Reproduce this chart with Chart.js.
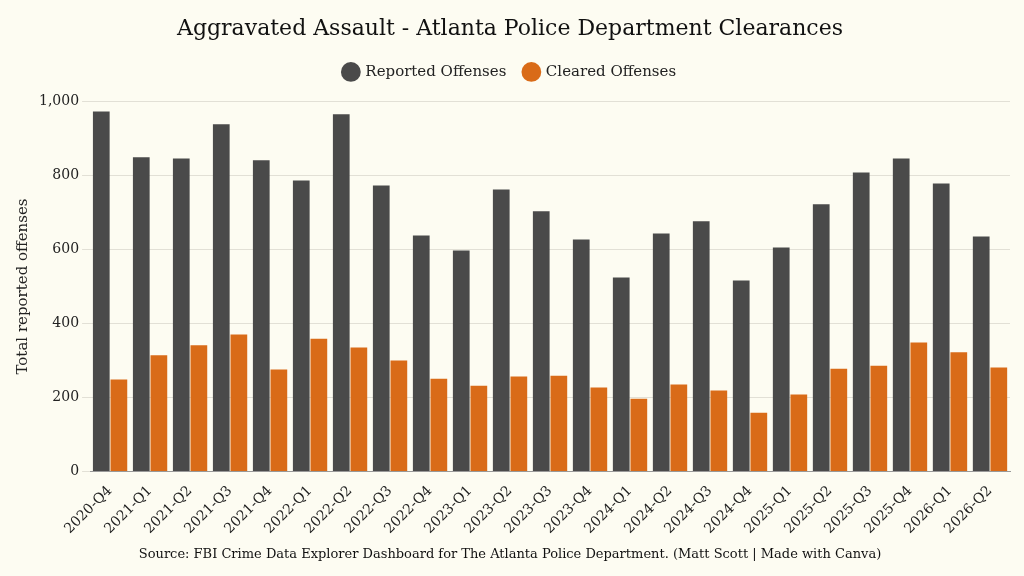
<!DOCTYPE html>
<html>
<head>
<meta charset="utf-8">
<script src="https://cdn.jsdelivr.net/npm/chart.js@4"></script>
<style>
  html, body { margin: 0; padding: 0; background: #fdfcf2; }
  #wrap { width: 1024px; height: 576px; position: relative; }
</style>
</head>
<body>
<div id="wrap"><canvas id="c" width="1024" height="576"></canvas></div>
<script>
const quarters = ['2020-Q4','2021-Q1','2021-Q2','2021-Q3','2021-Q4','2022-Q1','2022-Q2','2022-Q3','2022-Q4',
  '2023-Q1','2023-Q2','2023-Q3','2023-Q4','2024-Q1','2024-Q2','2024-Q3','2024-Q4','2025-Q1','2025-Q2',
  '2025-Q3','2025-Q4','2026-Q1','2026-Q2'];
const reported = [973, 849, 846, 938, 841, 786, 965, 773, 638, 597, 762, 703, 627, 524, 643, 676, 516, 605, 722, 808, 846, 778, 635];
const cleared = [249, 314, 341, 370, 276, 359, 335, 300, 251, 232, 257, 259, 227, 197, 235, 219, 159, 208, 278, 286, 349, 322, 281];

const serif = "'DejaVu Serif', 'Liberation Serif', serif";
Chart.defaults.font.family = serif;
Chart.defaults.color = '#222';

// extra gap under the legend
const legendGap = {
  id: 'legendGap',
  beforeInit(chart) {
    const fit = chart.legend.fit;
    chart.legend.fit = function () { fit.call(this); this.height += 12; };
  }
};

new Chart(document.getElementById('c'), {
  type: 'bar',
  data: {
    labels: quarters,
    datasets: [
      { label: 'Reported Offenses', data: reported, backgroundColor: '#4a4a4a', categoryPercentage: 0.88, barPercentage: 0.95 },
      { label: 'Cleared Offenses', data: cleared, backgroundColor: '#d96b18', categoryPercentage: 0.88, barPercentage: 0.95 }
    ]
  },
  plugins: [legendGap],
  options: {
    responsive: false,
    animation: false,
    layout: { padding: { left: 10, right: 14, top: 8, bottom: 8 } },
    scales: {
      x: {
        grid: { display: false },
        border: { color: '#999' },
        ticks: { maxRotation: 45, minRotation: 45, font: { size: 14 }, color: '#222' }
      },
      y: {
        min: 0, max: 1000,
        ticks: { stepSize: 200, font: { size: 14 }, color: '#222' },
        grid: { color: '#e2e0d6' },
        border: { display: false },
        title: { display: true, text: 'Total reported offenses', font: { size: 15 }, color: '#222' }
      }
    },
    plugins: {
      title: { display: true, text: 'Aggravated Assault - Atlanta Police Department Clearances', font: { size: 22, weight: 'normal' }, color: '#111', padding: { top: 8, bottom: 4 } },
      legend: { labels: { usePointStyle: true, pointStyle: 'circle', boxWidth: 14, boxHeight: 14, padding: 18, font: { size: 15 }, color: '#222' } },
      subtitle: { display: true, position: 'bottom', text: 'Source: FBI Crime Data Explorer Dashboard for The Atlanta Police Department. (Matt Scott | Made with Canva)', font: { size: 13 }, color: '#111', padding: { top: 6, bottom: 6 } }
    }
  }
});
</script>
</body>
</html>
